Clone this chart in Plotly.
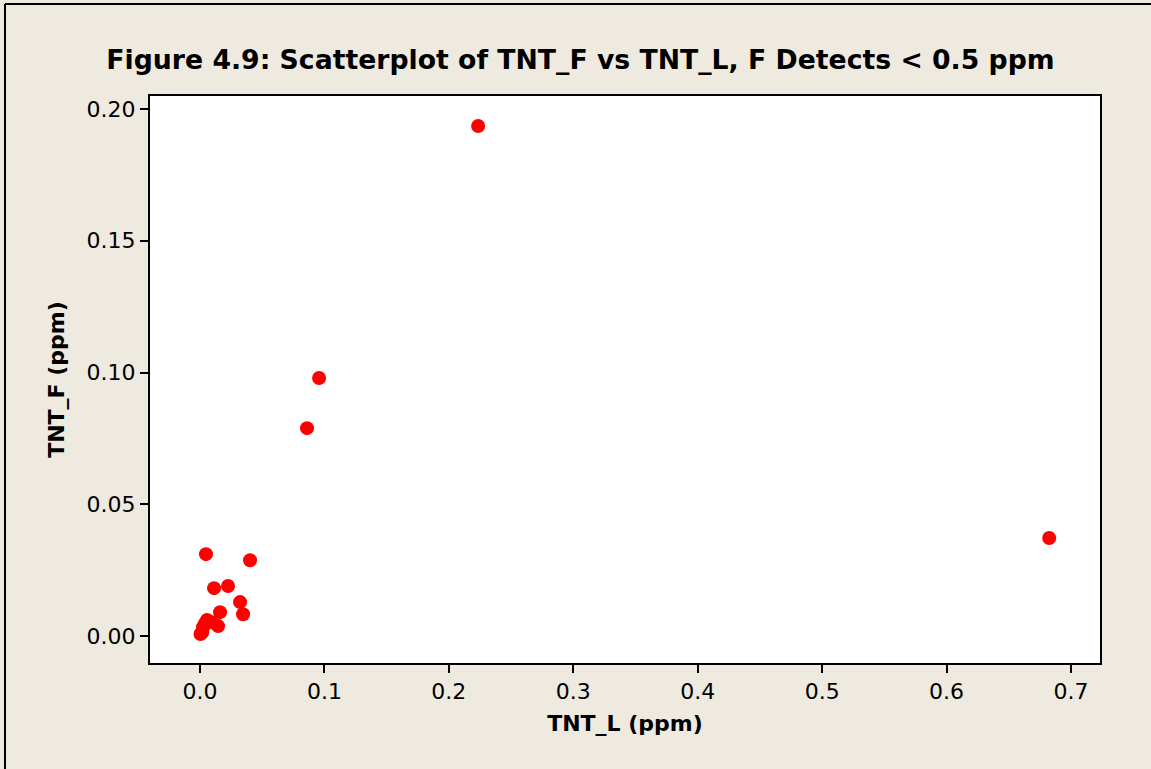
import plotly.graph_objects as go

tnt_l = [0.2235, 0.0957, 0.0860, 0.6825, 0.0048, 0.0402, 0.0225, 0.0113, 0.0322,
         0.0346, 0.0161, 0.0145, 0.0056, 0.0096, 0.0024, 0.0004, 0.0018, 0.0040]
tnt_f = [0.1935, 0.0979, 0.0789, 0.0372, 0.0311, 0.0288, 0.0190, 0.0182, 0.0129,
         0.0083, 0.0091, 0.0038, 0.0061, 0.0053, 0.0034, 0.0008, 0.0014, 0.0048]

x_ticks = [0.0, 0.1, 0.2, 0.3, 0.4, 0.5, 0.6, 0.7]
y_ticks = [0.00, 0.05, 0.10, 0.15, 0.20]

W, H = 1151, 769
ml, mr, mt, mb = 150, 51, 96, 106
pw, ph = W - ml - mr, H - mt - mb

fig = go.Figure()
fig.add_trace(go.Scatter(
    x=tnt_l, y=tnt_f, mode="markers",
    marker=dict(color="#FF0000", size=14, line=dict(width=0)),
    showlegend=False,
))

font = "DejaVu Sans, Verdana, sans-serif"
fig.update_layout(
    width=W, height=H,
    margin=dict(l=ml, r=mr, t=mt, b=mb, autoexpand=False),
    paper_bgcolor="#EEEAE0",
    plot_bgcolor="#FFFFFF",
    font=dict(family=font, color="#000000"),
    title=dict(
        text="<b>Figure 4.9: Scatterplot of TNT_F vs TNT_L, F Detects < 0.5 ppm</b>",
        x=(106 + 1055) / 2 / W, xanchor="center", y=1 - 60 / H, yanchor="middle",
        font=dict(size=26.7, family=font, color="#000000"),
    ),
    xaxis=dict(
        range=[-0.0402, 0.7233], tickvals=x_ticks, tickformat=".1f",
        ticks="outside", ticklen=8, tickwidth=2, tickcolor="#000000",
        showgrid=False, zeroline=False,
        showline=True, linecolor="#000000", linewidth=2, mirror=True,
        tickfont=dict(size=22, family=font),
        title=dict(text="<b>TNT_L (ppm)</b>", font=dict(size=22, family=font), standoff=12),
    ),
    yaxis=dict(
        range=[-0.0102, 0.2049], tickvals=y_ticks, tickformat=".2f",
        ticks="outside", ticklen=8, tickwidth=2, tickcolor="#000000",
        showgrid=False, zeroline=False,
        showline=True, linecolor="#000000", linewidth=2, mirror=True,
        tickfont=dict(size=22, family=font),
        title=dict(text="<b>TNT_F (ppm)</b>", font=dict(size=22, family=font), standoff=16),
    ),
    shapes=[
        dict(type="line", xref="paper", yref="paper",
             x0=(5 - ml) / pw, x1=(W - ml) / pw,
             y0=(H - mb - 4) / ph, y1=(H - mb - 4) / ph,
             line=dict(color="#000000", width=2), layer="below"),
        dict(type="line", xref="paper", yref="paper",
             x0=(5 - ml) / pw, x1=(5 - ml) / pw,
             y0=(H - mb - H) / ph, y1=(H - mb - 4) / ph,
             line=dict(color="#000000", width=2), layer="below"),
    ],
)

fig.write_html("out.html", config={"displayModeBar": False},
               post_script="document.body.style.margin='0';document.body.style.overflow='hidden';")
